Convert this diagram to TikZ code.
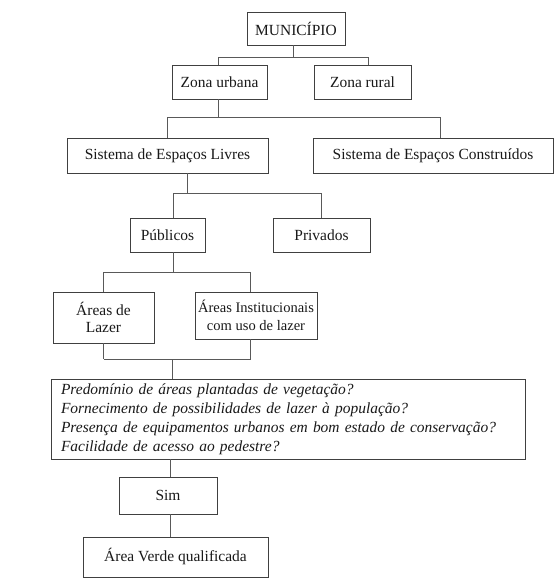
\documentclass[tikz,border=0pt]{standalone}
\usepackage{fontspec}
\setmainfont{Liberation Serif}
\begin{document}
\begin{tikzpicture}[x=0.75pt,y=-0.75pt,
  bx/.style 2 args={draw=black!75, line width=0.6pt, fill=white, inner sep=0pt,
    minimum width=#1*0.75pt, minimum height=#2*0.75pt, align=center,
    text=black!90, font=\fontsize{11.6}{13.2}\selectfont},
  conn/.style={draw=black!65, line width=0.6pt}]
\useasboundingbox (0,0) rectangle (557,580);
\node[bx={98}{33}] (mun) at (296,28.5) {MUNICÍPIO};
\node[bx={95}{34}] (zu) at (219.5,82) {Zona urbana};
\node[bx={97}{34}] (zr) at (362.5,82) {Zona rural};
\node[bx={201}{35}] (sel) at (167.5,155.5) {Sistema de Espaços Livres};
\node[bx={240}{35}] (sec) at (433,155.5) {Sistema de Espaços Construídos};
\node[bx={75}{34}] (pub) at (167.5,235) {Públicos};
\node[bx={97}{34}] (pri) at (321.5,235) {Privados};
\node[bx={101}{51}] (laz) at (103.5,317.5) {Áreas de\\Lazer};
\node[bx={122}{47}, font=\fontsize{10.9}{13.2}\selectfont] (ins) at (256,315.5) {Áreas Institucionais\\com uso de lazer};
\node[draw=black!75, line width=0.6pt, inner xsep=7.5pt, inner ysep=0pt,
  text width=340.5pt, minimum height=60pt, align=left, text=black!90,
  font=\fontsize{11.6}{14.2}\selectfont\itshape] (q) at (288,419)
  {Predomínio de áreas plantadas de vegetação?\\
   Fornecimento de possibilidades de lazer à população?\\
   Presença de equipamentos urbanos em bom estado de conservação?\\
   Facilidade de acesso ao pedestre?};
\node[bx={98}{37}] (sim) at (168,495.5) {Sim};
\node[bx={185}{40}] (av) at (175.5,557) {Área Verde qualificada};
% connectors
\draw[conn] ([xshift=-2.25pt]mun.south) -- ++(0,12) coordinate (j1);
\draw[conn] ([xshift=-1.125pt]zu.north) |- (j1) -| ([xshift=4.125pt]zr.north);
\draw[conn] ([xshift=-1.125pt]zu.south) -- ++(0,18) coordinate (j2);
\draw[conn] (sel.north) |- (j2) -| ([xshift=5.25pt]sec.north);
\draw[conn] ([xshift=14.625pt]sel.south) -- ++(0,20) coordinate (j3);
\draw[conn] ([xshift=4.125pt]pub.north) |- (j3) -| (pri.north);
\draw[conn] ([xshift=4.125pt]pub.south) -- ++(0,20) coordinate (j4);
\draw[conn] (laz.north) |- (j4) -| ([xshift=-4.5pt]ins.north);
\draw[conn] (laz.south) -- ++(0,16) coordinate (j5);
\draw[conn] ([xshift=-4.5pt]ins.south) |- (j5);
\coordinate (j6) at ([xshift=-86.625pt]q.north);
\draw[conn] (j6) -- (j6 |- j5);
\coordinate (j7) at ([xshift=1.5pt]sim.north);
\draw[conn] (j7 |- q.south) -- (j7);
\draw[conn] (j7 |- sim.south) -- (j7 |- av.north);
\end{tikzpicture}
\end{document}
